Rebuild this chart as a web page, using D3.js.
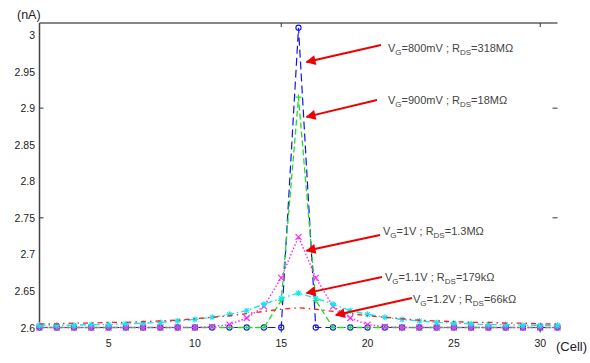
<!DOCTYPE html>
<html><head><meta charset="utf-8">
<script src="https://cdn.jsdelivr.net/npm/d3@7"></script>
<style>body{margin:0;background:#fff}svg{display:block}text{font-family:"Liberation Sans",Arial,sans-serif}</style>
</head><body><svg id="c" width="590" height="363"></svg>
<script>
const cells = [1,2,3,4,5,6,7,8,9,10,11,12,13,14,15,16,17,18,19,20,21,22,23,24,25,26,27,28,29,30,31];
const blue    = [2.6,2.6,2.6,2.6,2.6,2.6,2.6,2.6,2.6,2.6,2.6,2.6,2.6,2.6,2.6,3.01,2.6,2.6,2.6,2.6,2.6,2.6,2.6,2.6,2.6,2.6,2.6,2.6,2.6,2.6,2.6];
const green   = [2.6,2.6,2.6,2.6,2.6,2.6,2.6,2.6,2.6,2.6,2.6,2.6,2.6,2.6,2.637,2.915,2.637,2.6,2.6,2.6,2.6,2.6,2.6,2.6,2.6,2.6,2.6,2.6,2.6,2.6,2.6];
const magenta = [2.6,2.6,2.6,2.6,2.6,2.6,2.6,2.6,2.6,2.6,2.601,2.604,2.613,2.629,2.668,2.724,2.668,2.629,2.613,2.604,2.601,2.6,2.6,2.6,2.6,2.6,2.6,2.6,2.6,2.6,2.6];
const cyan    = [2.603,2.603,2.603,2.604,2.604,2.605,2.606,2.607,2.609,2.611,2.614,2.618,2.623,2.632,2.640,2.647,2.640,2.632,2.623,2.618,2.614,2.611,2.609,2.607,2.606,2.605,2.604,2.604,2.603,2.603,2.603];
const red     = [2.605,2.605,2.606,2.606,2.607,2.607,2.608,2.609,2.610,2.612,2.614,2.616,2.619,2.622,2.625,2.627,2.625,2.622,2.619,2.616,2.614,2.612,2.610,2.609,2.608,2.607,2.607,2.606,2.606,2.605,2.605];
const yTicks = [2.6,2.65,2.7,2.75,2.8,2.85,2.9,2.95,3];
const yTickLabels = ["2.6","2.65","2.7","2.75","2.8","2.85","2.9","2.95","3"];
const xTicks = [5,10,15,20,25,30];
const labels = [
  {vg:"800mV", rds:"318M\u03A9"},
  {vg:"900mV", rds:"18M\u03A9"},
  {vg:"1V", rds:"1.3M\u03A9"},
  {vg:"1.1V", rds:"179k\u03A9"},
  {vg:"1.2V", rds:"66k\u03A9"}
];
const labelCell = [16,16,16,16,17.7];
const labelVal  = [2.963,2.888,2.705,2.647,2.617];

const svg = d3.select("#c");
const x = d3.scaleLinear().domain([1,31]).range([39.5,557.5]);
const y = d3.scaleLinear().domain([2.6,3]).range([327.5,35]);
const topY = 23;

svg.append("line").attr("x1",x(1)).attr("x2",x(31)).attr("y1",topY).attr("y2",topY).attr("stroke","#111").attr("stroke-width",1.2);
svg.append("line").attr("x1",x(1)).attr("x2",x(1)).attr("y1",topY).attr("y2",y(2.6)).attr("stroke","#444").attr("stroke-width",1.5);
[2.9,2.75].forEach(v=>{
  svg.append("line").attr("x1",x(1)).attr("x2",x(1)+4).attr("y1",y(v)).attr("y2",y(v)).attr("stroke","#333");
  svg.append("line").attr("x1",x(31)-5).attr("x2",x(31)).attr("y1",y(v)).attr("y2",y(v)).attr("stroke","#333");
});
[15,30].forEach(v=>{
  svg.append("line").attr("x1",x(v)).attr("x2",x(v)).attr("y1",topY).attr("y2",topY+4).attr("stroke","#333");
  svg.append("line").attr("x1",x(v)).attr("x2",x(v)).attr("y1",y(2.6)).attr("y2",y(2.6)+5).attr("stroke","#333");
});

svg.append("g").selectAll("text").data(yTicks).join("text")
  .attr("x",35).attr("y",d=>y(d)+4).attr("text-anchor","end").attr("font-size",10.5).attr("fill","#222")
  .text((d,i)=>yTickLabels[i]);
svg.append("g").selectAll("text").data(xTicks).join("text")
  .attr("x",d=>x(d)).attr("y",347).attr("text-anchor","middle").attr("font-size",10.5).attr("fill","#222").text(d=>d);
svg.append("text").attr("x",17).attr("y",19).attr("font-size",12.5).attr("fill","#222").text("(nA)");
svg.append("text").attr("x",556).attr("y",351).attr("font-size",13).attr("fill","#222").text("(Cell)");

const line = d3.line().x((d,i)=>x(cells[i])).y(d=>y(d));
const series = [
  {d:blue, c:"#1010ff", dash:"8,4", m:"o", w:1.2},
  {d:green, c:"#22dd22", dash:"6,3", m:"+", w:1.3},
  {d:magenta, c:"#ff22ff", dash:"1.5,2", m:"x", w:1.4},
  {d:cyan, c:"#11e8f0", dash:"6,3,1.5,3", m:"*", w:1.4},
  {d:red, c:"#ff2020", dash:"5,4,1.5,4", m:"", w:1.4}
];
series.forEach(s=>{
  svg.append("path").attr("d",line(s.d)).attr("fill","none").attr("stroke",s.c).attr("stroke-width",s.w).attr("stroke-dasharray",s.dash);
  const g = svg.append("g").attr("stroke",s.c).attr("fill","none").attr("stroke-width",1.1);
  s.d.forEach((v,i)=>{
    const px=x(cells[i]), py=y(v), r=3;
    if(s.m==="o") g.append("circle").attr("cx",px).attr("cy",py).attr("r",2.6);
    else if(s.m==="+"){ g.append("path").attr("d",`M${px-r},${py}H${px+r}M${px},${py-r}V${py+r}`); }
    else if(s.m==="x"){ g.append("path").attr("d",`M${px-r},${py-r}L${px+r},${py+r}M${px-r},${py+r}L${px+r},${py-r}`); }
    else if(s.m==="*"){ g.append("path").attr("d",`M${px-r},${py}H${px+r}M${px},${py-r}V${py+r}M${px-2.2},${py-2.2}L${px+2.2},${py+2.2}M${px-2.2},${py+2.2}L${px+2.2},${py-2.2}`); }
  });
});

const textPos = [[388,52],[388,104],[383,235],[385,281],[413,303]];
const arrowStart = [[381,45],[377,100],[380,235],[382,277],[412,298]];
const defs = svg.append("defs");
defs.append("marker").attr("id","ah").attr("viewBox","0 0 10 10").attr("refX",9).attr("refY",5)
  .attr("markerWidth",6).attr("markerHeight",5).attr("orient","auto").attr("markerUnits","strokeWidth")
  .append("path").attr("d","M0,0L10,5L0,10Z").attr("fill","#ee0000");
labels.forEach((l,i)=>{
  const [sx,sy]=arrowStart[i];
  svg.append("line").attr("x1",sx).attr("y1",sy).attr("x2",x(labelCell[i])+8).attr("y2",y(labelVal[i]))
    .attr("stroke","#ee0000").attr("stroke-width",2).attr("marker-end","url(#ah)");
  const t = svg.append("text").attr("x",textPos[i][0]).attr("y",textPos[i][1]).attr("font-size",11).attr("fill","#444");
  t.append("tspan").text("V");
  t.append("tspan").attr("font-size",8).attr("dy",2.5).text("G");
  t.append("tspan").attr("dy",-2.5).text("="+l.vg+" ; R");
  t.append("tspan").attr("font-size",8).attr("dy",2.5).text("DS");
  t.append("tspan").attr("dy",-2.5).text("="+l.rds);
});
</script></body></html>
